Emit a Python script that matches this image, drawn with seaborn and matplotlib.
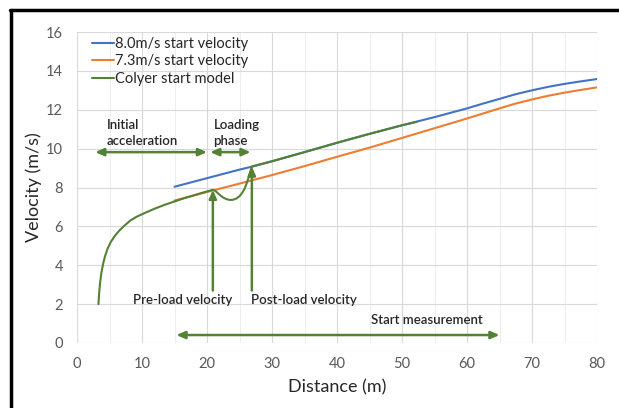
import matplotlib
matplotlib.use("Agg")
import matplotlib.pyplot as plt
from matplotlib.lines import Line2D
from matplotlib.ticker import MultipleLocator
import pandas as pd
import seaborn as sns

# Velocity profiles along the run-up (distance in m, velocity in m/s)
dist_fast = [15, 20, 25, 27, 30, 35, 40, 45, 50, 55, 60, 62.5, 65, 67.5, 70, 72.5, 75, 77.5, 80]
vel_fast = [8.04, 8.48, 8.92, 9.08, 9.35, 9.82, 10.3, 10.76, 11.2, 11.62, 12.07, 12.32, 12.56,
            12.8, 13.0, 13.18, 13.33, 13.46, 13.58]

dist_slow = [15, 20, 25, 30, 35, 40, 45, 50, 55, 60, 62.5, 65, 67.5, 70, 72.5, 75, 77.5, 80]
vel_slow = [7.33, 7.77, 8.2, 8.64, 9.1, 9.58, 10.05, 10.55, 11.05, 11.55, 11.81, 12.07, 12.32,
            12.53, 12.72, 12.88, 13.02, 13.15]

dist_model = [3.3, 3.4, 3.55, 3.75, 4.0, 4.3, 4.7, 5.2, 5.8, 6.5, 7.3, 8.2, 9.2, 10.5, 12, 13.5,
              15, 16.5, 18, 19.5, 20.9, 21.3, 21.7, 22.1, 22.5, 23.0, 23.5, 24.0, 24.5, 25.0,
              25.4, 25.8, 26.2, 26.6, 26.9, 30, 35, 40, 45, 50, 52.3]
vel_model = [2.0, 2.55, 3.1, 3.6, 4.05, 4.45, 4.85, 5.2, 5.5, 5.78, 6.04, 6.3, 6.5, 6.7, 6.92,
             7.11, 7.28, 7.45, 7.6, 7.75, 7.88, 7.82, 7.7, 7.58, 7.48, 7.4, 7.36, 7.37, 7.43,
             7.55, 7.72, 7.95, 8.3, 8.75, 9.08, 9.35, 9.82, 10.3, 10.76, 11.2, 11.38]

series_names = ["8.0m/s start velocity", "7.3m/s start velocity", "Colyer start model"]
series_colors = ["#4472C4", "#ED7D31", "#548235"]

# Annotation positions
preload_x, preload_v = 20.9, 7.88
postload_x, postload_v = 26.9, 9.08
accel_span = (2.8, 20.0)
loading_span = (20.5, 26.7)
measure_span = (15.3, 65.0)

df = pd.concat([
    pd.DataFrame({"Distance": dist_fast, "Velocity": vel_fast, "Series": series_names[0]}),
    pd.DataFrame({"Distance": dist_slow, "Velocity": vel_slow, "Series": series_names[1]}),
    pd.DataFrame({"Distance": dist_model, "Velocity": vel_model, "Series": series_names[2]}),
], ignore_index=True)

sns.set_style("white")
plt.rcParams["font.family"] = ["Lato", "DejaVu Sans"]

fig = plt.figure(figsize=(6.19, 4.08), dpi=100)
ax = fig.add_axes([77 / 619, 1 - 343 / 408, 520 / 619, 311 / 408])

sns.lineplot(data=df, x="Distance", y="Velocity", hue="Series", hue_order=series_names,
             palette=series_colors, sort=False, estimator=None, linewidth=1.5, ax=ax)
for line in ax.get_lines():
    line.set_solid_joinstyle("round")

ax.set_xlim(0, 80)
ax.set_ylim(0, 16)
ax.xaxis.set_major_locator(MultipleLocator(10))
ax.xaxis.set_minor_locator(MultipleLocator(5))
ax.yaxis.set_major_locator(MultipleLocator(2))
ax.grid(which="major", color="#d9d9d9", linewidth=0.8)
ax.grid(which="minor", axis="x", color="#eeeeee", linewidth=0.8)
ax.set_axisbelow(True)
for side in ["left", "bottom", "right", "top"]:
    ax.spines[side].set_visible(False)
ax.tick_params(axis="both", which="both", length=0, labelsize=10.5, labelcolor="#595959")
ax.tick_params(axis="x", pad=10)
ax.tick_params(axis="y", pad=10)
ax.set_xlabel("Distance (m)", fontsize=13, color="#262626", labelpad=6)
ax.set_ylabel("Velocity (m/s)", fontsize=13, color="#262626", labelpad=3)

leg = ax.legend(loc="upper left", bbox_to_anchor=(0.029, 0.985), frameon=False,
                fontsize=10.5, handlelength=1.5, handletextpad=0.1, labelspacing=0.25,
                borderpad=0, borderaxespad=0)
for t in leg.get_texts():
    t.set_color("#262626")

arrow_color = "#548235"
txt_kw = dict(fontsize=9.5, color="#262626", fontweight="semibold")

def hbar(x0, x1, y):
    ax.annotate("", xy=(x1, y), xytext=(x0, y),
                arrowprops=dict(arrowstyle="<|-|>,head_length=0.5,head_width=0.22",
                                color=arrow_color, lw=1.8, shrinkA=0, shrinkB=0))

def vbar(x, y0, y1):
    ax.annotate("", xy=(x, y1), xytext=(x, y0),
                arrowprops=dict(arrowstyle="-|>,head_length=0.5,head_width=0.22",
                                color=arrow_color, lw=1.8, shrinkA=0, shrinkB=0))

hbar(*accel_span, 9.82)
hbar(*loading_span, 9.82)
hbar(*measure_span, 0.41)
vbar(preload_x, 2.7, preload_v)
vbar(postload_x, 2.7, postload_v)

ax.text(4.6, 10.82, "Initial\nacceleration", va="center", ha="left", linespacing=1.4, **txt_kw)
ax.text(21.0, 10.82, "Loading\nphase", va="center", ha="left", linespacing=1.4, **txt_kw)
ax.text(8.6, 2.2, "Pre-load velocity", va="center", ha="left", **txt_kw)
ax.text(26.7, 2.2, "Post-load velocity", va="center", ha="left", **txt_kw)
ax.text(45.3, 1.18, "Start measurement", va="center", ha="left", **txt_kw)

# Black frame along the top and left edges of the figure
fig.add_artist(Line2D([10 / 619, 1.0], [1 - 10 / 408, 1 - 10 / 408], color="black", lw=2.5,
                      transform=fig.transFigure))
fig.add_artist(Line2D([11 / 619, 11 / 619], [0, 1 - 10 / 408], color="black", lw=2.5,
                      transform=fig.transFigure))

fig.savefig("out.png", dpi=100)
